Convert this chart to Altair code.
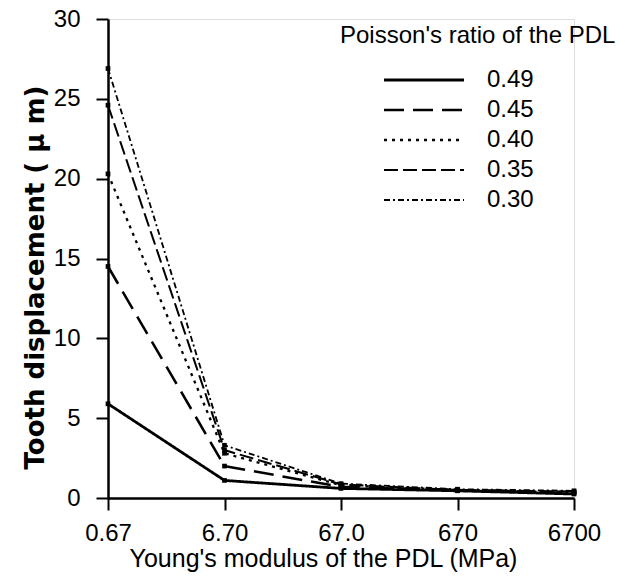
import altair as alt
import pandas as pd

# Data
modulus = ["0.67", "6.70", "67.0", "670", "6700"]
poisson = ["0.49", "0.45", "0.40", "0.35", "0.30"]
disp_049 = [5.9, 1.1, 0.6, 0.45, 0.25]
disp_045 = [14.5, 2.0, 0.7, 0.5, 0.3]
disp_040 = [20.3, 2.8, 0.8, 0.5, 0.35]
disp_035 = [24.6, 3.0, 0.85, 0.5, 0.4]
disp_030 = [26.9, 3.3, 0.9, 0.55, 0.45]
y_ticks = [0, 5, 10, 15, 20, 25, 30]

series_values = [disp_049, disp_045, disp_040, disp_035, disp_030]
rows = []
for nu, vals in zip(poisson, series_values):
    for e, v in zip(modulus, vals):
        rows.append({"E": e, "d": v, "nu": nu})
df = pd.DataFrame(rows)

dashes = [[1, 0], [20, 9], [3, 5], [14, 5], [6, 3, 2, 3]]
widths = [2.8, 1.8, 2.4, 1.8, 1.6]
FONT = "Liberation Sans"

x_enc = alt.X(
    "E:O",
    sort=modulus,
    scale=alt.Scale(type="point", padding=0),
    axis=alt.Axis(
        title="Young's modulus of the PDL (MPa)",
        labelAngle=0,
        labelFontSize=24,
        labelPadding=11,
        tickSize=12,
        tickWidth=2,
        domainWidth=2.5,
        titleFontSize=25,
        titleFontWeight="normal",
        titlePadding=1,
        titleX=215,
        grid=False,
    ),
)
y_enc = alt.Y(
    "d:Q",
    scale=alt.Scale(domain=[0, 30], nice=False, zero=True),
    axis=alt.Axis(
        title="Tooth displacement ( μ m)",
        values=y_ticks,
        labelFontSize=24,
        labelPadding=16,
        tickSize=12,
        tickWidth=2,
        domainWidth=2.5,
        titleFont="DejaVu Sans",
        titleFontSize=26,
        titleFontWeight="bold",
        titlePadding=5,
        titleY=258,
        grid=False,
    ),
)

lines = alt.Chart(df).mark_line(color="black").encode(
    x=x_enc,
    y=y_enc,
    strokeDash=alt.StrokeDash(
        "nu:N",
        sort=poisson,
        scale=alt.Scale(domain=poisson, range=dashes),
        legend=alt.Legend(
            title="Poisson's ratio of the PDL",
            titleLimit=400,
            orient="none",
            legendX=232,
            legendY=5,
            titleFontSize=24,
            titleFontWeight="normal",
            titlePadding=20,
            labelFontSize=24,
            symbolType="M-4,0H4",
            symbolSize=400,
            symbolStrokeWidth=2,
            symbolStrokeColor="black",
            symbolOffset=72,
            labelOffset=51,
            rowPadding=6,
        ),
    ),
    strokeWidth=alt.StrokeWidth(
        "nu:N",
        sort=poisson,
        scale=alt.Scale(domain=poisson, range=widths),
        legend=None,
    ),
)

points = alt.Chart(df).mark_point(filled=True, color="black", opacity=1, shape="square", size=22).encode(
    x=alt.X("E:O", sort=modulus, scale=alt.Scale(type="point", padding=0)),
    y=alt.Y("d:Q"),
)

chart = (
    alt.layer(lines, points)
    .properties(
        width=466,
        height=479,
        autosize=alt.AutoSizeParams(type="none"),
        padding={"left": 100, "top": 11, "right": 62, "bottom": 76},
    )
    .configure_view(stroke=None)
    .configure(font=FONT)
    .configure_axis(domainColor="black", tickColor="black", labelColor="black", titleColor="black")
    .configure_legend(labelColor="black", titleColor="black", labelFont=FONT, titleFont=FONT)
)

chart.save("out.html", embed_options={"renderer": "svg", "actions": False})
